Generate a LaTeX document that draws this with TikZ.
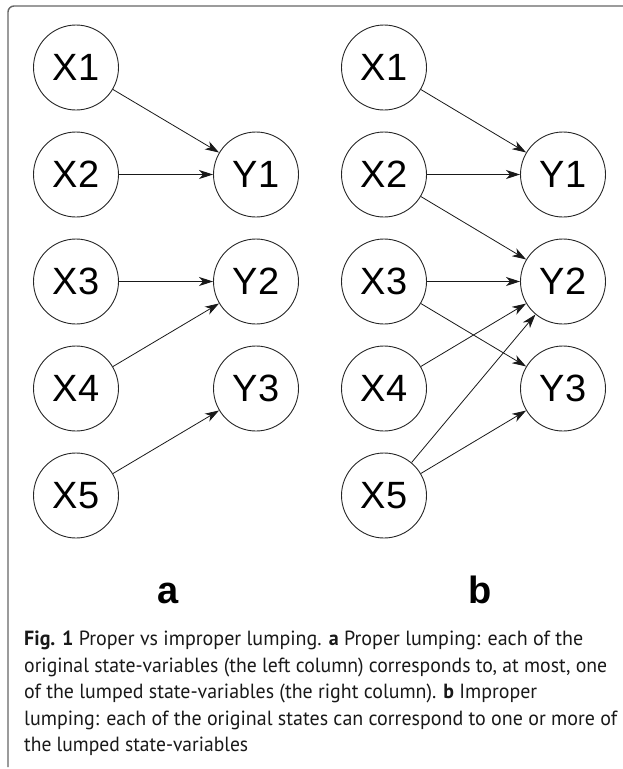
\documentclass[tikz,border=0pt]{standalone}
\usepackage{fontspec}
\usepackage{graphicx}
\setmainfont{Liberation Sans}
\newfontfamily\capfont{PT Sans}
\usetikzlibrary{arrows.meta}
\newcommand{\capfit}[2]{\resizebox{#1pt}{\height}{#2}}
\begin{document}
\begin{tikzpicture}[x=1pt,y=-1pt,
  var/.style={circle,draw=black!85,line width=0.9pt,minimum size=85pt,inner sep=0pt,font=\fontsize{38}{38}\selectfont},
  link/.style={-{Stealth[length=14pt,width=9pt,inset=4pt]},line width=0.8pt,black!90},
  panel/.style={font=\fontsize{38}{38}\selectfont\bfseries,anchor=base},
  capline/.style={anchor=base west,inner sep=0pt,font=\capfont\fontsize{20.5}{20.5}\selectfont,text=black!90}]
\useasboundingbox (0,0) rectangle (623,769);
% frame
\draw[black!60,line width=1.4pt,rounded corners=6pt] (623,6) -- (8,6) -- (8,767);
% panel a
\node[var] (a1) at (76,67.5) {X1};
\node[var] (a2) at (76,174.5) {X2};
\node[var] (a3) at (76,281.5) {X3};
\node[var] (a4) at (76,388.5) {X4};
\node[var] (a5) at (76,495.5) {X5};
\node[var] (ay1) at (256,174.5) {Y1};
\node[var] (ay2) at (256,281.5) {Y2};
\node[var] (ay3) at (256,388.5) {Y3};
\draw[link] (a1) -- (ay1);
\draw[link] (a2) -- (ay1);
\draw[link] (a3) -- (ay2);
\draw[link] (a4) -- (ay2);
\draw[link] (a5) -- (ay3);
% panel b
\node[var] (b1) at (384,67.5) {X1};
\node[var] (b2) at (384,174.5) {X2};
\node[var] (b3) at (384,281.5) {X3};
\node[var] (b4) at (384,388.5) {X4};
\node[var] (b5) at (384,495.5) {X5};
\node[var] (by1) at (563,174.5) {Y1};
\node[var] (by2) at (563,281.5) {Y2};
\node[var] (by3) at (563,388.5) {Y3};
\draw[link] (b1) -- (by1);
\draw[link] (b2) -- (by1);
\draw[link] (b2) -- (by2);
\draw[link] (b3) -- (by2);
\draw[link] (b3) -- (by3);
\draw[link] (b4) -- (by2);
\draw[link] (b5) -- (by2);
\draw[link] (b5) -- (by3);
% panel labels
\node[panel] (la) at (168,603) {a};
\node[panel] (lb) at (480,603) {b};
% caption
\node[capline] (c1) at (24,645) {\capfit{559}{\textbf{Fig. 1} Proper vs improper lumping. \textbf{a} Proper lumping: each of the}};
\node[capline] (c2) at (24,672) {\capfit{583}{original state-variables (the left column) corresponds to, at most, one}};
\node[capline] (c3) at (24,698.5) {\capfit{513}{of the lumped state-variables (the right column). \textbf{b} Improper}};
\node[capline] (c4) at (24,725) {\capfit{593}{lumping: each of the original states can correspond to one or more of}};
\node[capline] (c5) at (24,751) {\capfit{224}{the lumped state-variables}};
\end{tikzpicture}
\end{document}
